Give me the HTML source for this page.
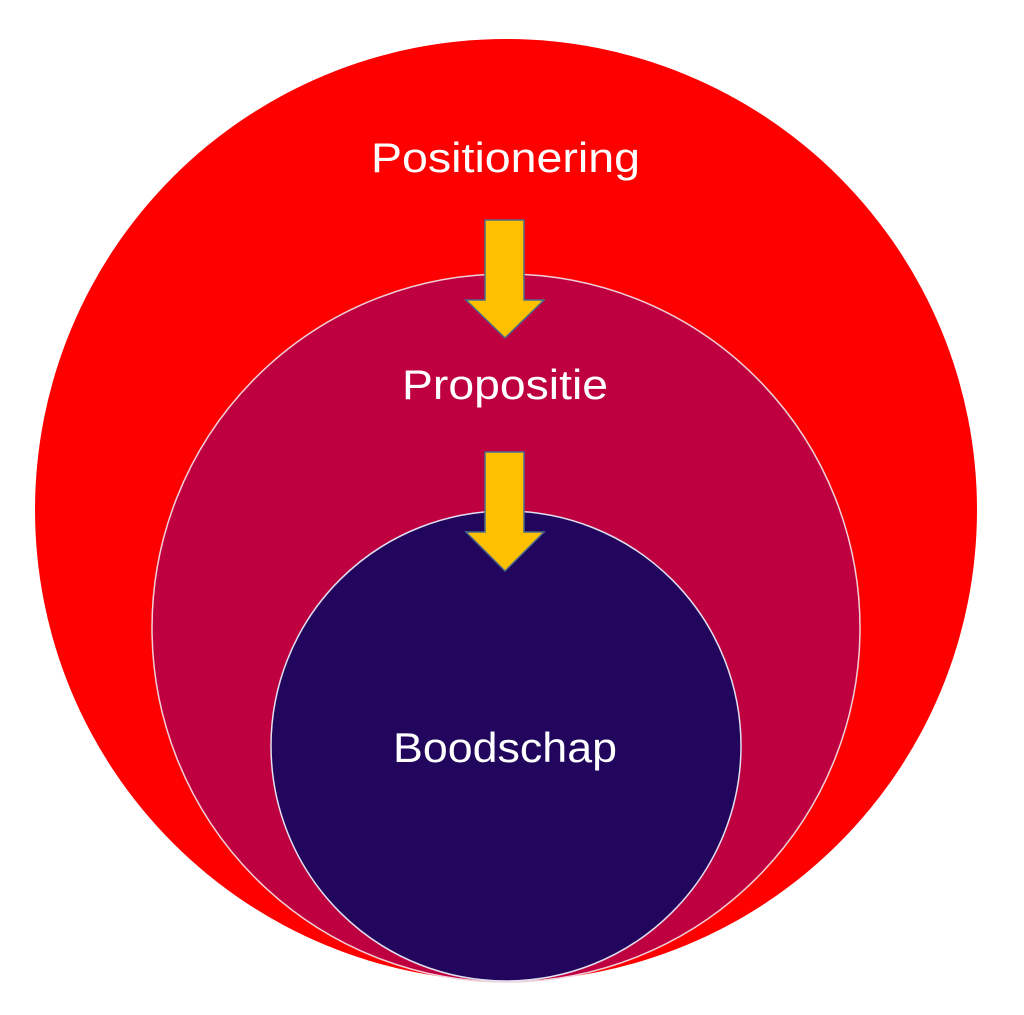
<!DOCTYPE html>
<html><head><meta charset="utf-8"><style>
html,body{margin:0;padding:0;background:#fff;}
svg{display:block;}
text{font-family:"Liberation Sans",sans-serif;fill:#fff;font-size:42px;}
</style></head><body>
<svg width="1024" height="1015" viewBox="0 0 1024 1015" xmlns="http://www.w3.org/2000/svg">
<circle cx="506" cy="510" r="471" fill="#fe0000"/>
<circle cx="506" cy="628" r="354" fill="#bf0040" stroke="#f0d0d8" stroke-width="1.5"/>
<circle cx="506" cy="746" r="235" fill="#22065d" stroke="#e0e0f0" stroke-width="1.5"/>
<text x="371" y="172" textLength="269" lengthAdjust="spacingAndGlyphs">Positionering</text>
<text x="402" y="399" textLength="206" lengthAdjust="spacingAndGlyphs">Propositie</text>
<text x="393" y="762" textLength="224" lengthAdjust="spacingAndGlyphs">Boodschap</text>
<polygon points="485,220 524,220 524,300 544,300 505,338 466,300 485,300" fill="#ffc000" stroke="#4a6a8a" stroke-width="1.5"/>
<polygon points="485,452 524,452 524,532 544,532 505,571 466,532 485,532" fill="#ffc000" stroke="#4a6a8a" stroke-width="1.5"/>
</svg>
</body></html>
